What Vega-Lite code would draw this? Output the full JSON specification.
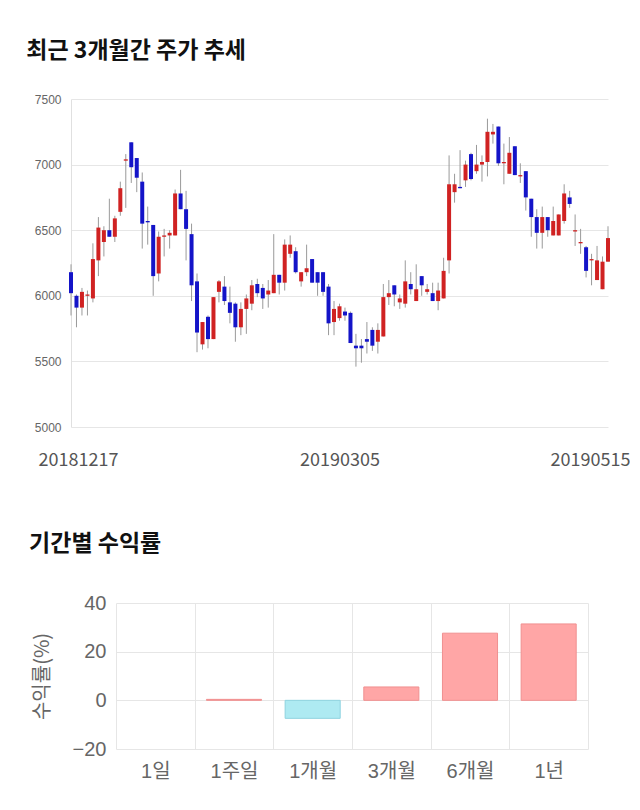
{
  "$schema": "https://vega.github.io/schema/vega-lite/v6.json",
  "background": "white",
  "padding": {"left": 26, "top": 40, "right": 0, "bottom": 10},
  "spacing": 64,
  "config": {"view": {"stroke": null}, "font": "Noto Sans CJK KR"},
  "vconcat": [
    {
      "title": {"text": "최근 3개월간 주가 추세", "anchor": "start", "fontSize": 23, "fontWeight": "bold", "color": "#111111", "offset": 30, "dx": -8, "font": "Noto Sans CJK KR"},
      "width": 537,
      "height": 328,
      "data": {"values": [
        {"d":"20181217","o":6180,"h":6240,"l":5850,"c":6020},
        {"d":"20181218","o":6000,"h":6010,"l":5760,"c":5910},
        {"d":"20181219","o":5910,"h":6060,"l":5850,"c":6030},
        {"d":"20181220","o":6000,"h":6040,"l":5850,"c":6010},
        {"d":"20181221","o":5980,"h":6400,"l":5950,"c":6280},
        {"d":"20181224","o":6270,"h":6600,"l":6150,"c":6520},
        {"d":"20181226","o":6410,"h":6530,"l":6300,"c":6500},
        {"d":"20181227","o":6500,"h":6740,"l":6450,"c":6450},
        {"d":"20181228","o":6450,"h":6610,"l":6410,"c":6590},
        {"d":"20190102","o":6640,"h":6870,"l":6610,"c":6820},
        {"d":"20190103","o":7030,"h":7080,"l":6670,"c":7040},
        {"d":"20190104","o":7170,"h":7170,"l":6860,"c":6980},
        {"d":"20190107","o":7050,"h":7050,"l":6790,"c":6900},
        {"d":"20190108","o":6870,"h":6940,"l":6360,"c":6550},
        {"d":"20190109","o":6570,"h":6680,"l":6390,"c":6560},
        {"d":"20190110","o":6540,"h":6540,"l":6000,"c":6150},
        {"d":"20190111","o":6170,"h":6490,"l":6110,"c":6450},
        {"d":"20190114","o":6450,"h":6510,"l":6300,"c":6460},
        {"d":"20190115","o":6460,"h":6500,"l":6360,"c":6480},
        {"d":"20190116","o":6460,"h":6810,"l":6460,"c":6780},
        {"d":"20190117","o":6780,"h":6960,"l":6660,"c":6660},
        {"d":"20190118","o":6660,"h":6800,"l":6270,"c":6510},
        {"d":"20190121","o":6470,"h":6550,"l":5960,"c":6080},
        {"d":"20190122","o":6110,"h":6170,"l":5570,"c":5720},
        {"d":"20190123","o":5630,"h":5800,"l":5590,"c":5800},
        {"d":"20190124","o":5840,"h":5850,"l":5600,"c":5670},
        {"d":"20190125","o":5670,"h":5990,"l":5670,"c":5990},
        {"d":"20190128","o":6030,"h":6120,"l":5950,"c":6110},
        {"d":"20190129","o":6070,"h":6150,"l":5930,"c":5960},
        {"d":"20190130","o":5950,"h":6070,"l":5790,"c":5870},
        {"d":"20190131","o":5940,"h":5950,"l":5650,"c":5760},
        {"d":"20190201","o":5760,"h":5950,"l":5700,"c":5900},
        {"d":"20190207","o":5900,"h":6010,"l":5710,"c":5980},
        {"d":"20190208","o":5940,"h":6120,"l":5890,"c":6080},
        {"d":"20190211","o":6090,"h":6130,"l":5990,"c":6020},
        {"d":"20190212","o":6060,"h":6090,"l":5900,"c":5980},
        {"d":"20190213","o":6010,"h":6120,"l":5910,"c":6040},
        {"d":"20190214","o":6020,"h":6470,"l":6020,"c":6160},
        {"d":"20190215","o":6160,"h":6160,"l":6010,"c":6100},
        {"d":"20190218","o":6100,"h":6430,"l":6040,"c":6390},
        {"d":"20190219","o":6320,"h":6460,"l":6290,"c":6390},
        {"d":"20190220","o":6340,"h":6370,"l":6170,"c":6180},
        {"d":"20190221","o":6110,"h":6180,"l":6070,"c":6180},
        {"d":"20190222","o":6180,"h":6390,"l":6150,"c":6210},
        {"d":"20190225","o":6280,"h":6280,"l":6100,"c":6100},
        {"d":"20190226","o":6180,"h":6180,"l":6000,"c":6100},
        {"d":"20190227","o":6180,"h":6180,"l":6000,"c":6030},
        {"d":"20190228","o":6070,"h":6090,"l":5700,"c":5790},
        {"d":"20190304","o":5800,"h":5960,"l":5700,"c":5900},
        {"d":"20190305","o":5830,"h":5940,"l":5810,"c":5920},
        {"d":"20190306","o":5880,"h":5910,"l":5810,"c":5850},
        {"d":"20190307","o":5870,"h":5880,"l":5640,"c":5640},
        {"d":"20190308","o":5620,"h":5710,"l":5460,"c":5600},
        {"d":"20190311","o":5620,"h":5670,"l":5490,"c":5600},
        {"d":"20190312","o":5670,"h":5800,"l":5560,"c":5650},
        {"d":"20190313","o":5740,"h":5760,"l":5580,"c":5620},
        {"d":"20190314","o":5650,"h":5790,"l":5560,"c":5740},
        {"d":"20190315","o":5690,"h":6090,"l":5690,"c":5990},
        {"d":"20190318","o":5990,"h":6120,"l":5930,"c":6020},
        {"d":"20190319","o":6080,"h":6080,"l":5920,"c":6010},
        {"d":"20190320","o":5950,"h":6010,"l":5900,"c":5980},
        {"d":"20190321","o":5940,"h":6270,"l":5910,"c":6110},
        {"d":"20190322","o":6090,"h":6180,"l":6010,"c":6050},
        {"d":"20190325","o":5960,"h":6240,"l":5960,"c":6050},
        {"d":"20190326","o":6150,"h":6150,"l":6000,"c":6080},
        {"d":"20190327","o":6030,"h":6090,"l":6010,"c":6050},
        {"d":"20190328","o":6020,"h":6100,"l":5960,"c":5960},
        {"d":"20190329","o":5960,"h":6100,"l":5890,"c":6040},
        {"d":"20190401","o":5980,"h":6290,"l":5980,"c":6190},
        {"d":"20190402","o":6270,"h":7070,"l":6170,"c":6850},
        {"d":"20190403","o":6790,"h":6930,"l":6710,"c":6850},
        {"d":"20190404","o":6830,"h":7110,"l":6820,"c":6820},
        {"d":"20190405","o":6880,"h":7030,"l":6830,"c":7000},
        {"d":"20190408","o":7080,"h":7090,"l":6880,"c":6890},
        {"d":"20190409","o":6950,"h":7150,"l":6930,"c":7000},
        {"d":"20190410","o":7000,"h":7070,"l":6870,"c":7020},
        {"d":"20190411","o":7020,"h":7350,"l":6910,"c":7250},
        {"d":"20190412","o":7230,"h":7310,"l":7160,"c":7250},
        {"d":"20190415","o":7290,"h":7290,"l":6990,"c":7010},
        {"d":"20190416","o":7010,"h":7160,"l":6850,"c":7020},
        {"d":"20190417","o":6930,"h":7210,"l":6930,"c":7090},
        {"d":"20190418","o":7140,"h":7140,"l":6920,"c":6920},
        {"d":"20190419","o":6910,"h":7010,"l":6860,"c":6920},
        {"d":"20190422","o":6950,"h":6950,"l":6650,"c":6750},
        {"d":"20190423","o":6740,"h":6740,"l":6450,"c":6600},
        {"d":"20190424","o":6600,"h":6660,"l":6360,"c":6480},
        {"d":"20190425","o":6480,"h":6680,"l":6360,"c":6600},
        {"d":"20190426","o":6600,"h":6600,"l":6450,"c":6500},
        {"d":"20190429","o":6460,"h":6680,"l":6460,"c":6570},
        {"d":"20190430","o":6460,"h":6620,"l":6460,"c":6620},
        {"d":"20190502","o":6570,"h":6850,"l":6550,"c":6780},
        {"d":"20190503","o":6750,"h":6800,"l":6670,"c":6700},
        {"d":"20190507","o":6490,"h":6620,"l":6380,"c":6500},
        {"d":"20190508","o":6400,"h":6510,"l":6320,"c":6410},
        {"d":"20190509","o":6370,"h":6380,"l":6140,"c":6190},
        {"d":"20190510","o":6270,"h":6320,"l":6080,"c":6280},
        {"d":"20190513","o":6120,"h":6380,"l":6120,"c":6270},
        {"d":"20190514","o":6050,"h":6300,"l":6050,"c":6260},
        {"d":"20190515","o":6260,"h":6530,"l":6260,"c":6440}
      ]},
      "encoding": {
        "x": {
          "field": "d", "type": "ordinal", "sort": null,
          "scale": {"type": "point", "padding": 0},
          "axis": {
            "values": ["20181217", "20190305", "20190515"],
            "title": null, "labelAngle": 0, "ticks": false, "domain": false, "grid": false,
            "labelFontSize": 18, "labelColor": "#555555", "labelPadding": 24, "labelFont": "Noto Sans CJK KR",
            "labelOffset": {"condition": [{"test": "datum.value == '20181217'", "value": 7}, {"test": "datum.value == '20190515'", "value": -18}], "value": 0}
          }
        }
      },
      "layer": [
        {
          "mark": {"type": "rule", "color": "#9a9a9a", "strokeWidth": 1},
          "encoding": {
            "y": {"field": "l", "type": "quantitative", "scale": {"domain": [5000, 7500], "nice": false, "zero": false},
              "axis": {"title": null, "values": [5000, 5500, 6000, 6500, 7000, 7500], "format": "d", "labelFontSize": 12, "labelColor": "#666666", "labelFont": "Liberation Sans", "ticks": false, "labelPadding": 10, "domainColor": "#e0e0e0", "gridColor": "#e6e6e6"}},
            "y2": {"field": "h"}
          }
        },
        {
          "mark": {"type": "rule", "strokeWidth": 4},
          "encoding": {
            "y": {"field": "o", "type": "quantitative"},
            "y2": {"field": "c"},
            "color": {"condition": {"test": "datum.c >= datum.o", "value": "#d02222"}, "value": "#1414c8"}
          }
        }
      ]
    },
    {
      "title": {"text": "기간별 수익률", "anchor": "start", "fontSize": 23, "fontWeight": "bold", "color": "#111111", "offset": 37, "dx": -3, "font": "Noto Sans CJK KR"},
      "width": 517,
      "height": 146,
      "data": {"values": [
        {"p": "1일", "v": 0},
        {"p": "1주일", "v": 0.4},
        {"p": "1개월", "v": -7.4},
        {"p": "3개월", "v": 5.5},
        {"p": "6개월", "v": 27.6},
        {"p": "1년", "v": 31.4}
      ]},
      "mark": {"type": "bar", "width": {"band": 0.7}, "strokeWidth": 1},
      "encoding": {
        "x": {"field": "p", "type": "nominal", "sort": null,
          "scale": {"paddingInner": 0, "paddingOuter": 0, "range": [45, 517]},
          "axis": {"title": null, "labelAngle": 0, "labelFontSize": 20, "labelColor": "#666666", "labelFont": "Liberation Sans, Noto Sans CJK KR", "ticks": false, "domain": false, "grid": true, "tickBand": "extent", "gridColor": "#e6e6e6", "labelPadding": 12}},
        "y": {"field": "v", "type": "quantitative", "scale": {"domain": [-20, 40], "nice": false},
          "axis": {"values": [-20, 0, 20, 40], "offset": -45, "title": "수익률(%)", "titleFontSize": 20, "titleFontWeight": "normal", "titleColor": "#666666", "titleFont": "Noto Sans CJK KR", "labelFontSize": 20, "labelColor": "#666666", "labelFont": "Liberation Sans", "gridColor": "#e6e6e6", "domain": false, "ticks": false, "labelPadding": 10, "titlePadding": 20}},
        "fill": {"condition": {"test": "datum.v >= 0", "value": "#ffa6a6"}, "value": "#aeeaf2"},
        "stroke": {"condition": [{"test": "datum.v == 0", "value": "transparent"}, {"test": "datum.v > 0", "value": "#f09090"}], "value": "#8fd3df"}
      }
    }
  ]
}
